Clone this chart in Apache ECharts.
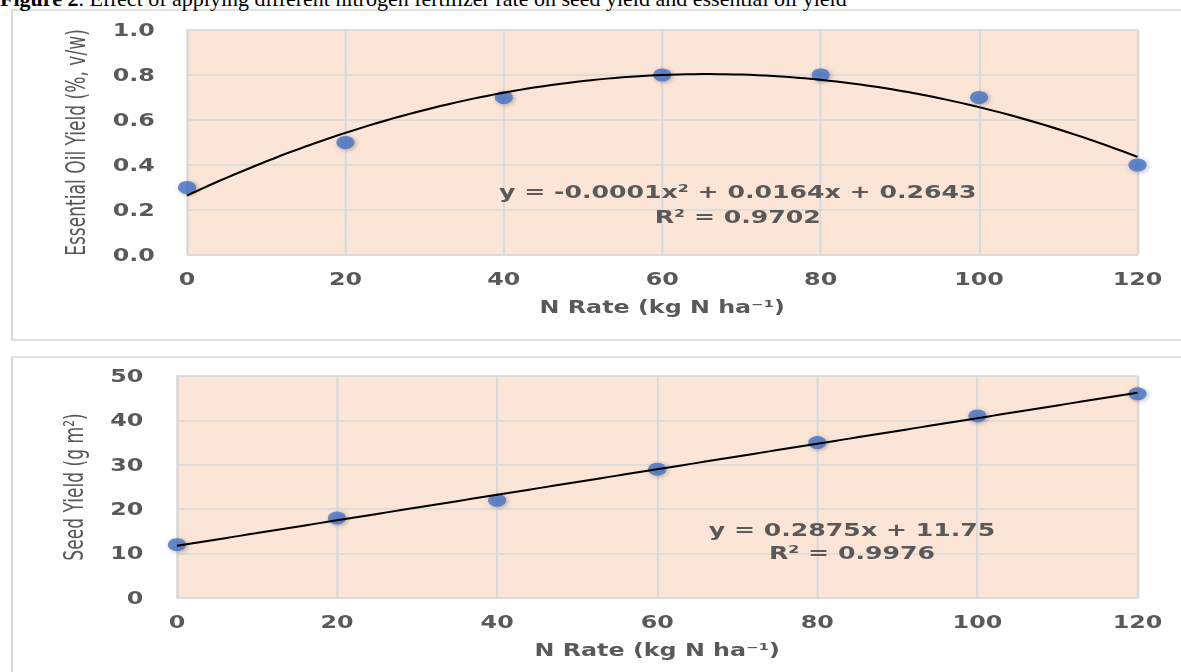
<!DOCTYPE html>
<html>
<head>
<meta charset="utf-8">
<script src="https://cdn.jsdelivr.net/npm/echarts@6/dist/echarts.min.js"></script>
<style>
html,body{margin:0;padding:0;background:#fff;overflow:hidden;width:1181px;height:672px;}
#chart{position:absolute;left:0;top:0;width:843.57px;height:672px;transform:scaleX(1.4);transform-origin:0 0;}
#title{position:absolute;left:0;top:0;width:1181px;height:12px;z-index:5;}
</style>
</head>
<body>
<div id="chart"></div>
<div id="title"></div>
<script>
// ---- data ----
const nRate = [0, 20, 40, 60, 80, 100, 120];
const oilYield = [0.3, 0.5, 0.7, 0.8, 0.8, 0.7, 0.4];
const seedYield = [12, 18, 22, 29, 35, 41, 46];
const oilEquation = 'y = -0.0001x² + 0.0164x + 0.2643';
const oilR2 = 'R² = 0.9702';
const seedEquation = 'y = 0.2875x + 11.75';
const seedR2 = 'R² = 0.9976';
const figureTitle = 'Figure 2';
const figureCaption = '. Effect of applying different nitrogen fertilizer rate on seed yield and essential oil yield';
const xName = 'N Rate (kg N ha⁻¹)';
const oilName = 'Essential Oil Yield (%, v/w)';
const seedName = 'Seed Yield (g m²)';

// least-squares polynomial fit (Excel-style trendline)
function polyFit(xs, ys, deg) {
  const n = deg + 1;
  const A = [];
  for (let r = 0; r < n; r++) {
    A.push([]);
    for (let c = 0; c < n; c++) {
      let s = 0;
      xs.forEach(x => { s += Math.pow(x, r + c); });
      A[r].push(s);
    }
    let t = 0;
    xs.forEach((x, i) => { t += Math.pow(x, r) * ys[i]; });
    A[r].push(t);
  }
  for (let i = 0; i < n; i++) {
    let p = i;
    for (let k = i + 1; k < n; k++) if (Math.abs(A[k][i]) > Math.abs(A[p][i])) p = k;
    [A[i], A[p]] = [A[p], A[i]];
    for (let k = 0; k < n; k++) {
      if (k === i) continue;
      const f = A[k][i] / A[i][i];
      for (let c = i; c <= n; c++) A[k][c] -= f * A[i][c];
    }
  }
  return A.map((row, i) => row[n] / row[i]);
}
function trend(xs, ys, deg) {
  const co = polyFit(xs, ys, deg);
  const lo = Math.min(...xs), hi = Math.max(...xs);
  const pts = [];
  for (let x = lo; x <= hi + 1e-9; x += 1) {
    let y = 0;
    co.forEach((c, i) => { y += c * Math.pow(x, i); });
    pts.push([x, y]);
  }
  return pts;
}

const grey = '#595959';
const tickFont = { color: grey, fontFamily: 'DejaVu Sans', fontWeight: 'bold', fontSize: 17 };
const nameFont = { color: grey, fontFamily: "'Liberation Sans Narrow','DejaVu Sans Condensed',sans-serif", fontSize: 19 };
const xNameFont = { color: grey, fontFamily: 'DejaVu Sans', fontWeight: 'bold', fontSize: 17 };
const gridLine = { lineStyle: { color: '#d9d9d9', width: 1.5 } };
const markerStyle = { color: '#4472C4', shadowBlur: 4, shadowColor: 'rgba(0,0,0,0.35)', shadowOffsetX: 1, shadowOffsetY: 1 };

const chart = echarts.init(document.getElementById('chart'), null, { renderer: 'svg' });
chart.setOption({
  animation: false,
  backgroundColor: '#ffffff',
  grid: [
    { left: 133.6, right: 31.5, top: 30, height: 225, show: true, backgroundColor: '#FBE5D6', borderColor: '#d9d9d9', borderWidth: 1 },
    { left: 126.4, right: 31.5, top: 376, height: 222, show: true, backgroundColor: '#FBE5D6', borderColor: '#d9d9d9', borderWidth: 1 }
  ],
  xAxis: [0, 1].map(i => ({
    type: 'value', gridIndex: i, min: 0, max: 120, interval: 20,
    axisLine: { show: false }, axisTick: { show: false },
    splitLine: { show: true, ...gridLine },
    axisLabel: { ...tickFont, margin: 16 },
    name: xName, nameLocation: 'middle', nameGap: 44, nameTextStyle: xNameFont
  })),
  yAxis: [
    { type: 'value', gridIndex: 0, min: 0, max: 1, interval: 0.2,
      axisLine: { show: false }, axisTick: { show: false },
      splitLine: { show: true, ...gridLine },
      axisLabel: { ...tickFont, margin: 23, formatter: v => v.toFixed(1) },
      name: oilName, nameLocation: 'middle', nameRotate: 90, nameGap: 70, nameTextStyle: nameFont },
    { type: 'value', gridIndex: 1, min: 0, max: 50, interval: 10,
      axisLine: { show: false }, axisTick: { show: false },
      splitLine: { show: true, ...gridLine },
      axisLabel: { ...tickFont, margin: 24 },
      name: seedName, nameLocation: 'middle', nameRotate: 90, nameGap: 64, nameTextStyle: nameFont }
  ],
  series: [
    { type: 'scatter', xAxisIndex: 0, yAxisIndex: 0, symbolSize: 13, itemStyle: markerStyle,
      data: nRate.map((x, i) => [x, oilYield[i]]), z: 2 },
    { type: 'line', xAxisIndex: 0, yAxisIndex: 0, showSymbol: false, symbol: 'none',
      lineStyle: { color: '#000', width: 2 }, data: trend(nRate, oilYield, 2), z: 3 },
    { type: 'scatter', xAxisIndex: 1, yAxisIndex: 1, symbolSize: 13, itemStyle: markerStyle,
      data: nRate.map((x, i) => [x, seedYield[i]]), z: 2 },
    { type: 'line', xAxisIndex: 1, yAxisIndex: 1, showSymbol: false, symbol: 'none',
      lineStyle: { color: '#000', width: 2 }, data: trend(nRate, seedYield, 1), z: 3 }
  ],
  graphic: [
    { type: 'rect', z: -10, shape: { x: 8.6, y: 10, width: 900, height: 330 },
      style: { fill: 'none', stroke: '#d9d9d9', lineWidth: 1.5 } },
    { type: 'rect', z: -10, shape: { x: 8.6, y: 357, width: 900, height: 400 },
      style: { fill: 'none', stroke: '#d9d9d9', lineWidth: 1.5 } },
    { type: 'text', z: 10, x: 527, y: 192, style: { text: oilEquation, fill: grey, font: 'bold 18px "DejaVu Sans"', textAlign: 'center', textVerticalAlign: 'middle' } },
    { type: 'text', z: 10, x: 527, y: 217, style: { text: oilR2, fill: grey, font: 'bold 18px "DejaVu Sans"', textAlign: 'center', textVerticalAlign: 'middle' } },
    { type: 'text', z: 10, x: 608.6, y: 530, style: { text: seedEquation, fill: grey, font: 'bold 18px "DejaVu Sans"', textAlign: 'center', textVerticalAlign: 'middle' } },
    { type: 'text', z: 10, x: 608.6, y: 553, style: { text: seedR2, fill: grey, font: 'bold 18px "DejaVu Sans"', textAlign: 'center', textVerticalAlign: 'middle' } }
  ]
});

const tchart = echarts.init(document.getElementById('title'), null, { renderer: 'svg' });
tchart.setOption({
  animation: false,
  graphic: [
    { type: 'text', x: 0, y: -13, style: {
      text: '{b|' + figureTitle + '}{n|' + figureCaption + '}',
      rich: {
        b: { fontFamily: "'Liberation Serif',serif", fontSize: 22, fontWeight: 'bold', fill: '#000' },
        n: { fontFamily: "'Liberation Serif',serif", fontSize: 22, fill: '#000' }
      },
      textVerticalAlign: 'top'
    } }
  ]
});
</script>
</body>
</html>
